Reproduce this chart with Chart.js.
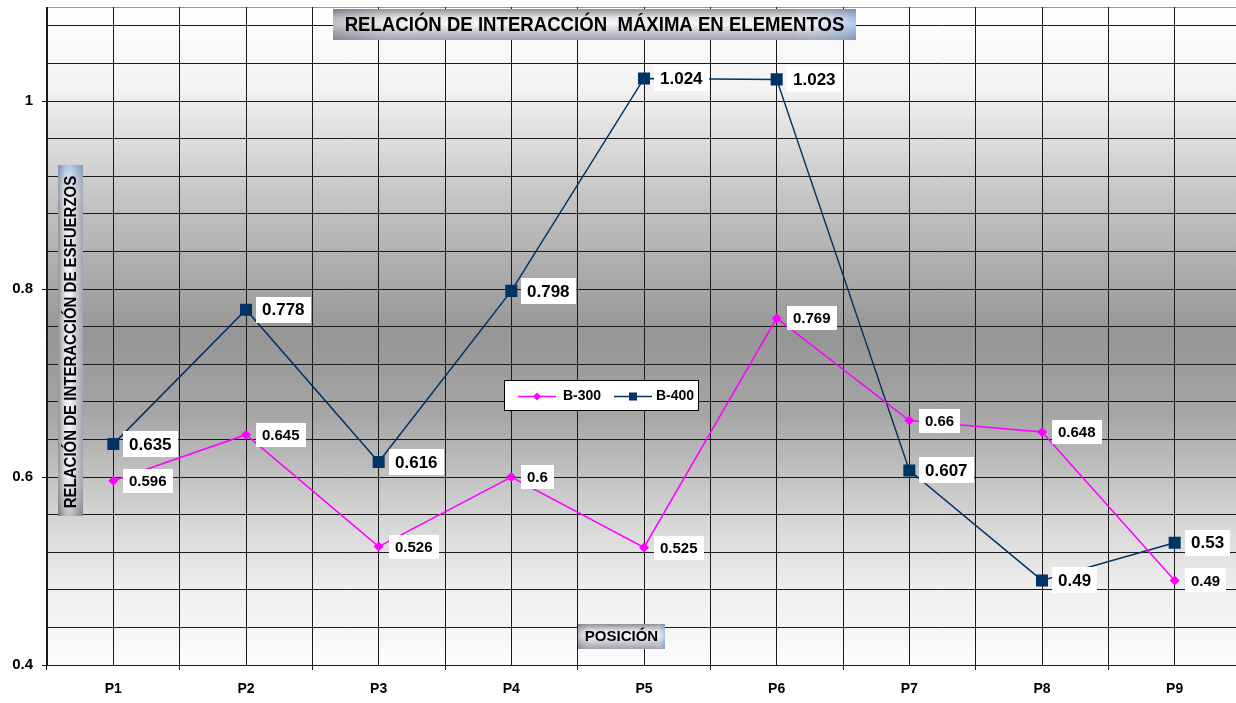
<!DOCTYPE html>
<html>
<head>
<meta charset="utf-8">
<title>Relación de interacción máxima en elementos</title>
<script src="https://cdn.jsdelivr.net/npm/chart.js@4.4.1/dist/chart.umd.min.js"></script>
<style>
  html, body { margin: 0; padding: 0; background: #ffffff; overflow: hidden; }
  #wrap { position: relative; width: 1241px; height: 703px; }
  #chart { display: block; }
</style>
</head>
<body>
<div id="wrap"><canvas id="chart" width="1241" height="703"></canvas></div>
<script>
// ---- data ----
const categories = ['P1', 'P2', 'P3', 'P4', 'P5', 'P6', 'P7', 'P8', 'P9'];
const b300Values = [0.596, 0.645, 0.526, 0.6, 0.525, 0.769, 0.66, 0.648, 0.49];
const b400Values = [0.635, 0.778, 0.616, 0.798, 1.024, 1.023, 0.607, 0.49, 0.53];
const seriesNames = ['B-300', 'B-400'];
const yTickValues = [0.4, 0.6, 0.8, 1];
const yTickLabels = ['0.4', '0.6', '0.8', '1'];
const chartTitle = 'RELACIÓN DE INTERACCIÓN  MÁXIMA EN ELEMENTOS';
const yAxisTitle = 'RELACIÓN DE INTERACCIÓN DE ESFUERZOS';
const xAxisTitle = 'POSICIÓN';

const FONT = "'Liberation Sans', Arial, Helvetica, sans-serif";
const GRID = '#1a1a1a';

function labelFor(value) {
  const i = yTickValues.findIndex(v => Math.abs(v - value) < 1e-9);
  return i >= 0 ? yTickLabels[i] : '';
}

function noEdgePadding(scale) {
  scale.paddingTop = 0;
  scale.paddingBottom = 0;
  scale.paddingLeft = 0;
  scale.paddingRight = 0;
}

// silver "metal" fill used for the title boxes
function metalBox(ctx, x, y, w, h, vertical) {
  const g = vertical ? ctx.createLinearGradient(x, 0, x + w, 0)
                     : ctx.createLinearGradient(0, y, 0, y + h);
  g.addColorStop(0, '#8e9096');
  g.addColorStop(0.28, '#e4e5e8');
  g.addColorStop(0.48, '#f6f7f8');
  g.addColorStop(0.75, '#c6c8cd');
  g.addColorStop(1, '#9ea3ad');
  ctx.fillStyle = g;
  ctx.fillRect(x, y, w, h);
  const s = vertical ? ctx.createLinearGradient(0, y + h, 0, y)
                     : ctx.createLinearGradient(x, 0, x + w, 0);
  s.addColorStop(0, 'rgba(70,70,80,0.30)');
  s.addColorStop(0.18, 'rgba(255,255,255,0)');
  s.addColorStop(0.88, 'rgba(255,255,255,0)');
  s.addColorStop(1, 'rgba(90,140,215,0.45)');
  ctx.fillStyle = s;
  ctx.fillRect(x, y, w, h);
}

// gradient backdrop of the plot area
const plotBackground = {
  id: 'plotBackground',
  beforeDraw(chart) {
    const { ctx, chartArea: a } = chart;
    const g = ctx.createLinearGradient(0, a.top, 0, a.bottom);
    g.addColorStop(0, '#ffffff');
    g.addColorStop(0.12, '#f3f3f3');
    g.addColorStop(0.3, '#c2c2c2');
    g.addColorStop(0.5, '#969696');
    g.addColorStop(0.62, '#a6a6a6');
    g.addColorStop(0.76, '#d0d0d0');
    g.addColorStop(0.88, '#eeeeee');
    g.addColorStop(1, '#fcfcfc');
    ctx.save();
    ctx.fillStyle = g;
    ctx.fillRect(a.left, a.top, a.right - a.left, a.bottom - a.top);
    ctx.strokeStyle = '#9a9a9a';
    ctx.lineWidth = 1;
    ctx.beginPath();
    ctx.moveTo(a.left, a.top + 0.5);
    ctx.lineTo(a.right, a.top + 0.5);
    ctx.stroke();
    ctx.restore();
  }
};

// value labels in white boxes, to the right of each point
const valueLabels = {
  id: 'valueLabels',
  afterDatasetsDraw(chart) {
    const ctx = chart.ctx;
    ctx.save();
    chart.data.datasets.forEach((ds, di) => {
      const meta = chart.getDatasetMeta(di);
      const size = ds.labelFontSize;
      const h = ds.labelBoxHeight;
      ctx.font = `bold ${size}px ${FONT}`;
      ctx.textBaseline = 'middle';
      ctx.textAlign = 'left';
      meta.data.forEach((pt, i) => {
        const text = String(ds.data[i]);
        const tw = ctx.measureText(text).width;
        const x = Math.round(pt.x + 10);
        const y = Math.round(pt.y - h / 2);
        ctx.fillStyle = '#ffffff';
        ctx.fillRect(x, y, Math.round(tw + 12), h);
        ctx.fillStyle = '#000000';
        ctx.fillText(text, x + 6, pt.y + 1);
      });
    });
    ctx.restore();
  }
};

// chart title, axis titles and the legend box drawn over the plot
const overlays = {
  id: 'overlays',
  afterDraw(chart) {
    const { ctx } = chart;
    ctx.save();

    // main title
    metalBox(ctx, 333, 9, 523, 31, false);
    ctx.fillStyle = '#000';
    ctx.textAlign = 'center';
    ctx.textBaseline = 'middle';
    ctx.save();
    ctx.translate(594.5, 25);
    ctx.scale(1, 1.1);
    ctx.font = `bold 18.6px ${FONT}`;
    ctx.fillText(chartTitle, 0, 0);
    ctx.restore();

    // y axis title (vertical)
    metalBox(ctx, 58, 165, 25, 351, true);
    ctx.save();
    ctx.translate(71, 342);
    ctx.rotate(-Math.PI / 2);
    ctx.scale(1, 1.15);
    ctx.font = `bold 15px ${FONT}`;
    ctx.fillStyle = '#000';
    ctx.fillText(yAxisTitle, 0, 0);
    ctx.restore();

    // x axis title
    metalBox(ctx, 578, 624, 87, 25, false);
    ctx.font = `bold 15px ${FONT}`;
    ctx.fillStyle = '#000';
    ctx.fillText(xAxisTitle, 621.5, 637);

    // legend
    const lx = 504, ly = 380, lw = 195, lh = 31;
    ctx.fillStyle = '#ffffff';
    ctx.fillRect(lx, ly, lw, lh);
    ctx.strokeStyle = '#000';
    ctx.lineWidth = 1;
    ctx.strokeRect(lx + 0.5, ly + 0.5, lw - 1, lh - 1);
    const items = [{ x: 518, tx: 563 }, { x: 614, tx: 656 }];
    chart.data.datasets.forEach((ds, di) => {
      const it = items[di];
      const cy = ly + 16.5;
      ctx.strokeStyle = ds.borderColor;
      ctx.lineWidth = ds.borderWidth;
      ctx.beginPath();
      ctx.moveTo(it.x, cy);
      ctx.lineTo(it.x + 38, cy);
      ctx.stroke();
      ctx.fillStyle = ds.backgroundColor;
      const mx = it.x + 19;
      if (ds.pointStyle === 'rectRot') {
        ctx.beginPath();
        ctx.moveTo(mx - 4, cy); ctx.lineTo(mx, cy - 4);
        ctx.lineTo(mx + 4, cy); ctx.lineTo(mx, cy + 4);
        ctx.closePath(); ctx.fill();
      } else {
        ctx.fillRect(mx - 4, cy - 4, 8, 8);
      }
      ctx.fillStyle = '#000';
      ctx.textAlign = 'left';
      ctx.font = `bold 14px ${FONT}`;
      ctx.fillText(ds.label, it.tx, cy);
    });

    ctx.restore();
  }
};

new Chart(document.getElementById('chart'), {
  type: 'line',
  data: {
    labels: categories,
    datasets: [
      {
        label: seriesNames[0],
        data: b300Values,
        borderColor: '#ff00ff',
        backgroundColor: '#ff00ff',
        borderWidth: 1.5,
        pointStyle: 'rectRot',
        pointRadius: 5,
        pointBorderWidth: 0,
        tension: 0,
        labelFontSize: 15,
        labelBoxHeight: 24
      },
      {
        label: seriesNames[1],
        data: b400Values,
        borderColor: '#003366',
        backgroundColor: '#003366',
        borderWidth: 1.5,
        pointStyle: 'rect',
        pointRadius: 8.5,
        pointBorderWidth: 0,
        tension: 0,
        labelFontSize: 17,
        labelBoxHeight: 26
      }
    ]
  },
  options: {
    responsive: false,
    animation: false,
    devicePixelRatio: 1,
    layout: { autoPadding: false, padding: { top: 7, left: 0, right: 0, bottom: 0 } },
    plugins: {
      legend: { display: false },
      title: { display: false },
      tooltip: { enabled: false }
    },
    scales: {
      x: {
        type: 'category',
        position: 'bottom',
        offset: true,
        grid: { offset: true, color: GRID, lineWidth: 1, tickLength: 5, tickColor: GRID },
        border: { display: true, color: GRID, width: 1 },
        ticks: {
          color: '#000',
          font: { family: FONT, size: 14, weight: 'bold' },
          padding: 11,
          maxRotation: 0,
          autoSkip: false
        },
        afterFit(scale) { scale.height = 38; noEdgePadding(scale); }
      },
      xCenters: {
        type: 'category',
        position: 'bottom',
        offset: true,
        grid: { offset: false, color: GRID, lineWidth: 1, drawTicks: false },
        border: { display: false },
        ticks: { display: false },
        afterFit(scale) { scale.height = 0; noEdgePadding(scale); }
      },
      y: {
        type: 'linear',
        position: 'left',
        min: 0.4,
        max: 1.1,
        grid: {
          color: GRID,
          lineWidth: 1,
          tickLength: 5,
          tickColor: ctx => (ctx.tick && labelFor(ctx.tick.value) !== '' ? GRID : 'rgba(0,0,0,0)')
        },
        border: { display: true, color: GRID, width: 1 },
        ticks: {
          stepSize: 0.04,
          includeBounds: false,
          autoSkip: false,
          color: '#000',
          font: { family: FONT, size: 15, weight: 'bold' },
          padding: 9,
          callback: value => labelFor(value)
        },
        afterFit(scale) { scale.width = 47; noEdgePadding(scale); }
      }
    }
  },
  plugins: [plotBackground, valueLabels, overlays]
});
</script>
</body>
</html>
